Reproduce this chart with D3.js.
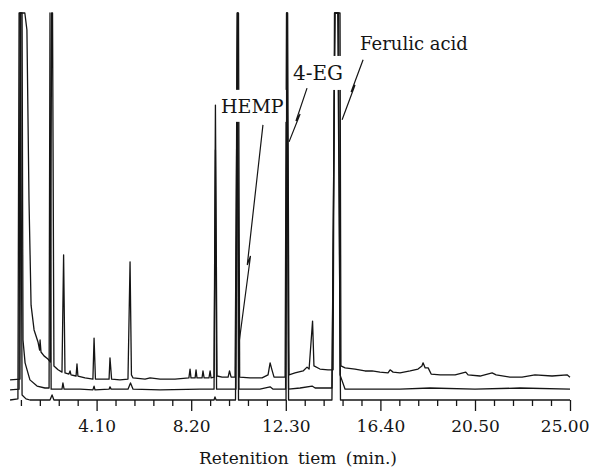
<!DOCTYPE html>
<html>
<head>
<meta charset="utf-8">
<script src="https://cdn.jsdelivr.net/npm/d3@7"></script>
<style>
  body { margin: 0; background: #fff; }
  svg { display: block; }
  .trace { fill: none; stroke: #151515; stroke-width: 1.3; stroke-linejoin: round; }
  .arrow { fill: none; stroke: #151515; stroke-width: 1.2; }
  .tick line { stroke: #151515; stroke-width: 1.3; }
</style>
</head>
<body>
<div id="chart"></div>
<script>
// Chromatogram traces: [retention time (min), detector signal (% of full scale)]
var topTrace = [[0.35,5.2],[0.78,5.4],[0.82,100],[0.99,100],[1.08,95.6],[1.17,51.7],[1.26,24.5],[1.39,18.1],
  [1.56,15.0],[1.63,12.9],[1.65,15.5],[1.69,12.4],[1.82,11.4],[1.99,10.6],[2.10,9.8],[2.15,100],[2.19,100],
  [2.25,8.8],[2.43,7.8],[2.60,7.2],[2.67,37.5],[2.73,7.0],[2.90,6.7],[2.95,7.5],[2.99,6.5],[3.21,6.2],[3.25,9.3],
  [3.29,6.2],[3.60,5.7],[3.94,5.4],[3.99,16.0],[4.05,5.4],[4.33,5.4],[4.64,5.4],[4.68,10.9],[4.75,5.4],[5.11,5.2],
  [5.46,5.4],[5.55,35.7],[5.61,6.5],[5.68,5.7],[6.20,5.4],[6.42,5.7],[6.85,5.4],[7.50,5.4],[8.10,5.7],[8.15,8.0],
  [8.19,5.7],[8.37,5.7],[8.41,7.8],[8.45,5.7],[8.67,5.7],[8.71,7.5],[8.76,5.7],[8.97,5.7],[9.02,7.5],[9.06,5.7],
  [9.19,5.9],[9.25,76.2],[9.32,6.2],[9.54,5.9],[9.80,5.9],[9.86,7.5],[9.93,5.9],[10.10,5.9],[10.21,100],[10.25,100],
  [10.30,5.9],[10.75,5.7],[11.27,5.7],[11.53,6.5],[11.62,9.6],[11.70,7.8],[11.79,5.9],[12.27,5.9],[12.33,100],
  [12.38,100],[12.44,6.5],[12.70,7.0],[13.05,7.5],[13.22,8.5],[13.31,8.0],[13.46,20.4],[13.52,8.8],[13.78,8.0],
  [14.13,7.8],[14.35,7.8],[14.41,100],[14.65,100],[14.69,8.8],[14.87,8.3],[15.30,8.0],[15.73,7.5],[16.04,7.5],
  [16.38,7.2],[16.73,7.0],[16.82,7.8],[16.95,7.2],[17.25,7.0],[17.69,7.5],[18.03,8.0],[18.20,8.8],[18.25,9.6],
  [18.34,8.3],[18.47,8.3],[18.60,6.7],[18.99,6.5],[19.64,6.5],[20.10,7.2],[20.20,6.5],[20.74,6.2],[21.31,7.0],
  [21.50,6.5],[22.16,5.9],[22.73,5.9],[23.34,6.5],[24.15,6.2],[24.86,6.5],[25.0,5.9]];

var midTrace = [[0.35,2.6],[0.74,2.8],[0.78,100],[0.87,100],[0.91,15.5],[1.0,9.6],[1.21,5.2],[1.52,3.6],
  [1.86,3.1],[2.04,3.1],[2.08,100],[2.13,2.8],[2.43,2.8],[2.60,2.8],[2.64,4.4],[2.69,2.8],[3.38,2.8],[3.94,2.6],
  [3.99,3.6],[4.03,2.6],[4.64,2.8],[4.68,3.4],[4.73,2.8],[5.46,2.8],[5.57,4.4],[5.68,2.8],[6.85,2.6],[8.58,2.8],
  [9.19,2.8],[9.25,64.6],[9.30,2.8],[10.14,2.8],[10.21,100],[10.27,2.8],[11.18,2.8],[11.62,3.4],[11.75,2.8],
  [12.29,2.8],[12.35,100],[12.42,2.8],[12.92,3.1],[13.44,3.6],[13.57,3.1],[14.30,3.1],[14.43,100],[14.59,100],
  [14.65,6.5],[14.87,2.8],[17.25,2.8],[18.55,3.1],[20.5,2.8],[22.63,3.1],[25.0,2.8]];

var lowTrace = [[0.35,0],[0.69,0.3],[0.74,100],[0.80,100],[0.87,1.3],[1.04,0.3],[1.21,0],[2.08,0],[2.17,1.3],
  [2.25,0],[9.19,0],[9.23,0.8],[9.28,0],[10.12,0],[10.19,100],[10.25,0],[12.31,0],[12.35,100],[12.42,0],
  [14.30,0],[14.43,100],[14.55,100],[14.67,0],[25.0,0]];

var majorTicks = [4.1, 8.2, 12.3, 16.4, 20.5, 25.0];
var tickLabels = ["4.10", "8.20", "12.30", "16.40", "20.50", "25.00"];
var minorTicks = [0.82, 1.64, 2.46, 3.28, 4.92, 5.74, 6.56, 7.38, 9.02, 9.84, 10.66, 11.48,
  13.12, 13.94, 14.76, 15.58, 17.22, 18.04, 18.86, 19.68, 21.4, 22.3, 23.2, 24.1];

// Peak annotations: label start point and pointer polyline, in [time, signal]
var peakNames = ["HEMP", "4-EG", "Ferulic acid"];
var labelAt = [[9.49, 74.2], [12.61, 82.7], [15.52, 90.4]];
var pointers = [
  [[11.31, 71.1], [10.63, 34.9], [10.77, 37.2], [10.29, 15.5]],
  [[13.22, 80.6], [12.74, 72.1], [12.92, 73.9], [12.44, 66.7]],
  [[15.65, 87.9], [15.13, 79.6], [15.30, 81.4], [14.74, 72.4]]
];

var width = 589, height = 474;
var font = "'DejaVu Serif', serif";

// The recorder's time axis is slightly stretched at the far end
var x = d3.scaleLinear().domain([0, 20.5, 25]).range([2, 475, 570]);
var y = d3.scaleLinear().domain([0, 100]).range([400, 13]);

var svg = d3.select("#chart").append("svg")
    .attr("width", width)
    .attr("height", height);

var line = d3.line()
    .x(function(d) { return x(d[0]); })
    .y(function(d) { return y(d[1]); });

[lowTrace, midTrace, topTrace].forEach(function(tr) {
    svg.append("path")
        .datum(tr)
        .attr("class", "trace")
        .attr("d", line);
});

// Minor ticks
var minorAxis = svg.append("g")
    .attr("transform", "translate(0," + y(0) + ")")
    .call(d3.axisBottom(x).tickValues(minorTicks).tickSize(6).tickFormat(""));
minorAxis.select(".domain").remove();

// Major ticks with labels
var majorAxis = svg.append("g")
    .attr("transform", "translate(0," + y(0) + ")")
    .call(d3.axisBottom(x).tickValues(majorTicks).tickSize(11).tickPadding(9)
        .tickFormat(function(d, i) { return tickLabels[i]; }));
majorAxis.select(".domain").remove();
majorAxis.selectAll("text")
    .style("font-family", font)
    .style("font-size", "17px")
    .attr("fill", "#151515");
// last label is pushed in to stay on the page, as in the original
majorAxis.selectAll("text").filter(function(d) { return d === 25.0; })
    .attr("text-anchor", "end")
    .attr("dx", 19);

// Axis title
svg.append("text")
    .attr("x", 298)
    .attr("y", 464)
    .attr("text-anchor", "middle")
    .style("font-family", font)
    .style("font-size", "17px")
    .style("word-spacing", "4px")
    .attr("fill", "#151515")
    .text("Retenition tiem (min.)");

// Peak labels sit on white boxes that hide the lines behind them
var labelSizes = [19, 20, 18];
peakNames.forEach(function(name, i) {
    var g = svg.append("g");
    var box = g.append("rect").attr("fill", "#fff");
    var t = g.append("text")
        .attr("x", x(labelAt[i][0]))
        .attr("y", y(labelAt[i][1]))
        .style("font-family", font)
        .style("font-size", labelSizes[i] + "px")
        .attr("fill", "#151515")
        .text(name);
    var bb = t.node().getBBox();
    box.attr("x", bb.x - 2).attr("y", bb.y - 5)
        .attr("width", bb.width + 4).attr("height", bb.height + 10);
});

pointers.forEach(function(p) {
    svg.append("path")
        .datum(p)
        .attr("class", "arrow")
        .attr("d", line);
});
</script>
</body>
</html>
